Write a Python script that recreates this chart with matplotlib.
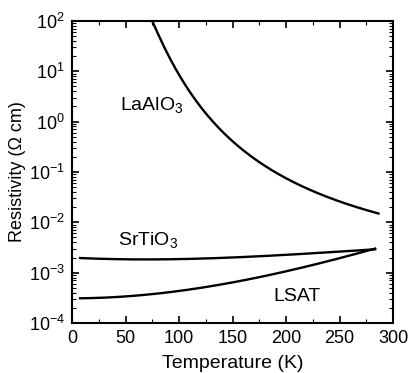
import matplotlib
matplotlib.use("Agg")
import matplotlib.pyplot as plt
import numpy as np
from matplotlib.ticker import LogLocator, MultipleLocator, NullFormatter

plt.rcParams['font.family'] = ['Liberation Sans', 'DejaVu Sans']
plt.rcParams['mathtext.fontset'] = 'custom'
plt.rcParams['mathtext.rm'] = 'Liberation Sans'
plt.rcParams['mathtext.it'] = 'Liberation Sans'
plt.rcParams['mathtext.bf'] = 'Liberation Sans:bold'

# Data (T in K, resistivity in Ohm cm)
lao_T = [75, 86.9, 99.3, 111.9, 122.7, 141.4, 160.1, 182, 203.7, 234.9, 266.1, 286.3]
lao_rho = [100, 28.6, 8.39, 3.36, 1.71, 0.682, 0.274, 0.118, 0.0641, 0.0323, 0.0204, 0.0158]

sto_T = [7.5, 29.3, 60, 91.6, 153.9, 215.9, 262.6, 283.2]
sto_rho = [1.98e-3, 1.84e-3, 1.83e-3, 1.87e-3, 2.02e-3, 2.35e-3, 2.73e-3, 2.91e-3]

lsat_T = [7.5, 30, 60.5, 90, 122.7, 155, 185, 210, 231.8, 250, 262.9, 283.2]
lsat_rho = [3.09e-4, 3.2e-4, 3.49e-4, 4.1e-4, 5.13e-4, 6.7e-4, 8.97e-4, 1.17e-3, 1.53e-3, 1.95e-3, 2.42e-3, 2.91e-3]


def smooth(T, rho, inverse=False, deg=3):
    # smooth curve through the read points (fit of log10(rho))
    T = np.asarray(T, float)
    x = 1.0 / T if inverse else T
    c = np.polyfit(x, np.log10(rho), deg)
    t = np.linspace(T[0], T[-1], 300)
    xt = 1.0 / t if inverse else t
    return t, 10 ** np.polyval(c, xt)


fig = plt.figure(figsize=(4.08, 3.73), dpi=100)
ax = fig.add_axes([0.1765, 0.134, 0.787, 0.81])

ax.plot(*smooth(lao_T, lao_rho, inverse=True), color='black', linewidth=1.7)
ax.plot(*smooth(sto_T, sto_rho), color='black', linewidth=1.7)
ax.plot(*smooth(lsat_T, lsat_rho), color='black', linewidth=1.7)

ax.set_yscale('log')
ax.set_xlim(0, 300)
ax.set_ylim(1e-4, 1e2)

ax.xaxis.set_major_locator(MultipleLocator(50))
ax.xaxis.set_minor_locator(MultipleLocator(25))
ax.yaxis.set_minor_locator(LogLocator(base=10, subs=np.arange(2, 10), numticks=20))
ax.yaxis.set_minor_formatter(NullFormatter())
ax.set_yticks([10.0 ** e for e in range(-4, 3)])
ax.set_yticklabels([r'$10^{%d}$' % e for e in range(-4, 3)])

ax.tick_params(which='both', direction='in', top=True, right=True, labelsize=13)
ax.tick_params(which='major', length=5, width=1.2, pad=5)
ax.tick_params(which='minor', length=3, width=0.8)
for s in ax.spines.values():
    s.set_linewidth(1.5)

ax.set_xlabel('Temperature (K)', fontsize=14, labelpad=6)
ax.set_ylabel('Resistivity (\u03a9 cm)', fontsize=13, labelpad=2)

ax.text(45, 10 ** 0.33, r'LaAlO$_3$', fontsize=14, va='center')
ax.text(43, 10 ** -2.35, r'SrTiO$_3$', fontsize=14, va='center')
ax.text(188, 10 ** -3.47, 'LSAT', fontsize=14, va='center')

fig.savefig('out.png', dpi=100)
